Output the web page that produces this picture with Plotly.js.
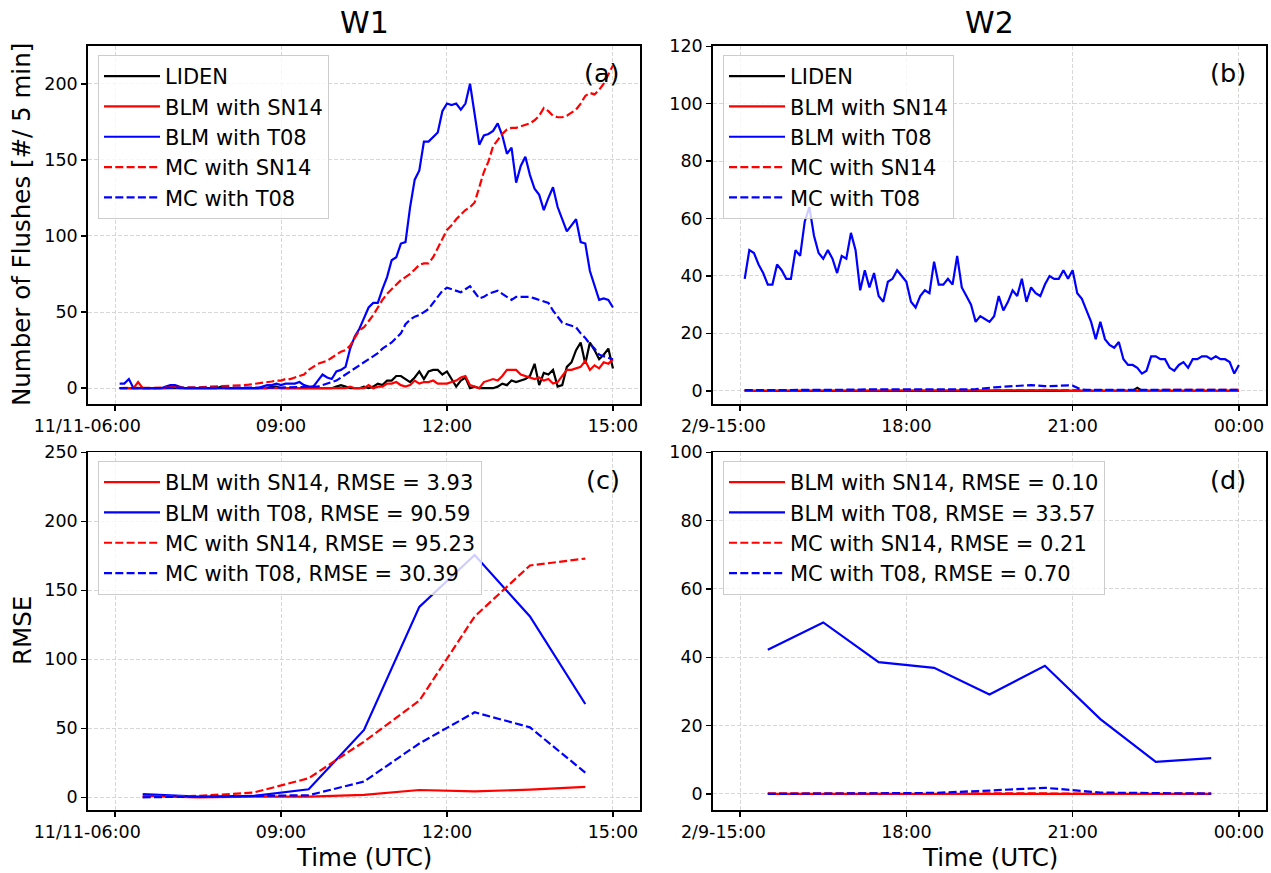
<!DOCTYPE html>
<html>
<head>
<meta charset="utf-8">
<script src="https://cdn.plot.ly/plotly-3.0.1.min.js"></script>
<style>
html,body{margin:0;padding:0;background:#ffffff;}
#chart{width:1271px;height:873px;}
</style>
</head>
<body>
<div id="chart"></div>
<script>
// ---------------- DATA ----------------
// W1: 5-min counts, 2020-11-11 06:05 .. 15:00 (108 values)
const w1_liden = [
  0,0,0,0,0,0,0,0,0,0,0,
  0,0,0,0,0,0,0,0,0,0,0,1,
  0,0,0,0,0,0,0,0,0,0,1,1,
  0,0,0,0,0,0,0,0,0,0,0,0,
  1,2,1,0,0,0,1,0,1,3,2,5,
  5,8,8,6,4,7,11,6,11,12,12,9,
  11,6,1,5,7,0,1,0,0,0,0,1,
  3,2,5,4,5,6,8,16,2,10,9,12,
  1,2,14,17,25,30,16,30,25,19,22,26,
  13];
const w1_blm_sn14 = [
  0,0,0,0,4,0,0,0,0,0,0,
  1,1,0,0,0,0,0,0,0,0,0,0,
  0,0,0,0,0,0,0,0,0,0,0,0,
  0,0,0,0,0,0,0,0,0,0,0,0,
  0,0,0,1,0,0,0,2,0,1,1,3,
  3,4,2,1,2,5,3,4,4,5,3,3,
  3,4,5,7,8,2,1,0,4,5,6,5,
  8,12,12,12,9,8,7,6,7,5,6,3,
  4,8,12,12,13,14,18,12,15,13,17,16,
  19];
const w1_blm_t08 = [
  3,3,6,0,0,0,0,0,0,0,1,
  2,2,1,0,0,0,0,0,0,0,0,0,
  0,0,0,0,0,0,0,0,1,2,2,3,
  2,3,3,3,4,2,1,1,5,9,7,6,
  11,12,14,26,34,39,46,53,56,56,65,73,
  84,86,95,96,119,137,143,162,162,165,168,182,
  187,186,187,183,187,200,179,160,166,167,169,174,
  166,154,158,135,146,152,140,131,127,117,125,132,
  119,111,103,107,111,96,95,77,67,58,59,58,
  53];
const w1_mc_sn14 = [
  0.1,0.1,0.1,0.1,0.2,0.2,0.2,0.2,0.3,0.3,0.3,
  0.3,0.4,0.4,0.4,0.5,0.5,0.6,0.7,0.8,0.9,1,1,
  1.2,1.3,1.5,1.8,2,2.3,2.7,3,3.3,3.8,4.4,5,
  5,6,6,7,8,9,12,14,16,17,18,20,
  22,24,25,28,33,38,40,44,48,53,58,62,
  65,68,71,73,75,78,81,82,82,86,92,97,
  104,107,111,114,117,119,122,132,142,149,159,163,
  167,170,171,171,172,173,174,176,179,184,182,179,
  178,178,179,181,183,187,192,194,193,196,200,206,
  212];
const w1_mc_t08 = [
  0,0,0,0,0,0,0,0,0,0,0,
  0,0,0,0,0,0,0.1,0.1,0.1,0.1,0.1,0.1,
  0.1,0.1,0.1,0.1,0.2,0.2,0.2,0.2,0.3,0.3,0.3,0.4,
  0.4,0.5,0.5,0.6,0.7,0.8,1,1,1,2,3,4,
  5,7,9,11,13,15,17,19,21,23,26,28,
  30,33,36,42,45,47,48,50,52,56,60,64,
  66,65,64,63,65,67,63,59,60,62,63,64,
  62,60,58,60,60,60,60,59,58,57,56,51,
  47,43,42,41,40,36,33,29,26,22,21,20,
  19];

// W2: 5-min counts, 2021-02-09 15:05 .. 2021-02-10 00:00 (108 values)
const w2_liden = [
  0,0,0,0,0,0,0,0,0,0,0,
  0,0,0,0,0,0,0,0,0,0,0,0,
  0,0,0,0,0,0,0,0,0,0,0,0,
  0,0,0,0,0,0,0,0,0,0,0,0,
  0,0,0,0,0,0,0,0,0,0,0,0,
  0,0,0,0,0,0,0,0,0,0,0,0,
  0,0,0,0,0,0,0,0,0,0,0,0,
  0,0,1,0,0,0,0,0,0,0,0,0,
  0,0,0,0,0,0,0,0,0,0,0,0,
  0];
const w2_blm_sn14 = [
  0,0,0,0,0,0,0,0,0,0,0,
  0,0,0,0,0,0,0,0,0,0,0,0,
  0,0,0,0,0,0,0,0,0,0,0,0,
  0,0,0,0,0,0,0,0,0,0,0,0,
  0,0,0,0,0,0,0,0,0,0,0,0,
  0,0,0,0,0.1,0.2,0.3,0.2,0.1,0,0,0,
  0,0,0,0,0,0,0,0,0,0,0,0,
  0,0,0,0,0,0,0,0,0,0,0,0,
  0,0,0,0,0,0,0,0,0,0,0,0,
  0];
const w2_blm_t08 = [
  39,49,48,44,41,37,37,44,42,39,39,
  49,47,59,64,54,48,46,49,46,41,47,46,
  55,49,35,42,36,41,33,31,38,39,42,40,
  38,31,29,33,35,34,45,37,37,39,37,47,
  36,33,30,24,26,25,24,26,33,28,31,35,
  33,39,31,36,34,33,37,40,39,39,42,39,
  42,34,32,28,24,18,24,18,16,15,17,11,
  9,9,8,6,7,12,12,11,11,8,7,9,
  10,8,11,11,12,12,11,12,11,11,10,6,
  9];
const w2_mc_sn14 = [
  0.2,0.2,0.3,0.3,0.2,0.3,0.3,0.2,0.3,0.3,0.3,
  0.3,0.3,0.3,0.3,0.3,0.3,0.4,0.4,0.3,0.3,0.3,0.3,
  0.3,0.3,0.4,0.4,0.3,0.3,0.3,0.3,0.3,0.3,0.3,0.3,
  0.3,0.3,0.3,0.3,0.3,0.3,0.3,0.3,0.4,0.4,0.3,0.3,
  0.3,0.3,0.3,0.3,0.4,0.4,0.4,0.4,0.4,0.4,0.4,0.4,
  0.4,0.4,0.4,0.4,0.4,0.4,0.4,0.4,0.4,0.4,0.4,0.4,
  0.4,0.3,0.3,0.3,0.3,0.3,0.3,0.3,0.3,0.3,0.3,0.3,
  0.3,0.3,0.4,0.3,0.3,0.3,0.3,0.3,0.3,0.3,0.3,0.3,
  0.3,0.3,0.3,0.3,0.3,0.3,0.3,0.3,0.3,0.3,0.3,0.3,
  0.3];
const w2_mc_t08 = [
  0.2,0.2,0.2,0.2,0.2,0.2,0.2,0.2,0.2,0.2,0.2,
  0.3,0.3,0.3,0.3,0.3,0.3,0.3,0.3,0.3,0.3,0.3,0.3,
  0.3,0.3,0.4,0.5,0.5,0.4,0.3,0.3,0.3,0.3,0.3,0.3,
  0.3,0.3,0.3,0.3,0.4,0.4,0.4,0.4,0.4,0.5,0.5,0.5,
  0.5,0.5,0.5,0.6,0.8,1.0,1.1,1.2,1.3,1.4,1.5,1.6,
  1.8,1.9,2.0,2.0,1.9,1.7,1.6,1.6,1.7,1.8,1.9,1.9,
  1.8,1.0,0.4,0.3,0.3,0.3,0.3,0.3,0.3,0.3,0.3,0.3,
  0.3,0.3,0.3,0.3,0.3,0.3,0.3,0.3,0.3,0.3,0.3,0.3,
  0.3,0.3,0.3,0.3,0.3,0.3,0.3,0.3,0.3,0.3,0.3,0.3,
  0.3];

// Hourly RMSE, W1 at 06:30 .. 14:30 ; W2 at 15:30 .. 23:30
const w1_rmse_blm_sn14 = [1, 0, 0.5, 0.5, 1.7, 5.3, 4.3, 5.6, 7.5];
const w1_rmse_blm_t08  = [2.4, 0.5, 1, 5.8, 48.8, 138, 175.6, 131, 67.6];
const w1_rmse_mc_sn14  = [0.5, 1, 3.4, 13.8, 40.3, 70, 131, 168, 173];
const w1_rmse_mc_t08   = [0, 0.5, 1, 1.5, 11.4, 39, 61.6, 50.7, 17.9];
const w2_rmse_blm_sn14 = [0, 0, 0, 0, 0.1, 0.2, 0, 0, 0];
const w2_rmse_blm_t08  = [42.2, 50.2, 38.6, 36.9, 29.1, 37.5, 21.9, 9.4, 10.5];
const w2_rmse_mc_sn14  = [0.2, 0.2, 0.2, 0.2, 0.3, 0.3, 0.2, 0.3, 0.1];
const w2_rmse_mc_t08   = [0, 0.1, 0.2, 0.3, 1.0, 1.8, 0.4, 0.3, 0.1];

// Labels
const seriesNames = ['LIDEN', 'BLM with SN14', 'BLM with T08', 'MC with SN14', 'MC with T08'];
const w1_rmse_names = ['BLM with SN14, RMSE = 3.93', 'BLM with T08, RMSE = 90.59', 'MC with SN14, RMSE = 95.23', 'MC with T08, RMSE = 30.39'];
const w2_rmse_names = ['BLM with SN14, RMSE = 0.10', 'BLM with T08, RMSE = 33.57', 'MC with SN14, RMSE = 0.21', 'MC with T08, RMSE = 0.70'];
const w1_tickvals = ['2020-11-11 06:00', '2020-11-11 09:00', '2020-11-11 12:00', '2020-11-11 15:00'];
const w1_ticktext = ['11/11-06:00', '09:00', '12:00', '15:00'];
const w2_tickvals = ['2021-02-09 15:00', '2021-02-09 18:00', '2021-02-09 21:00', '2021-02-10 00:00'];
const w2_ticktext = ['2/9-15:00', '18:00', '21:00', '00:00'];
const panelTitles = ['W1', 'W2'];
const panelLetters = ['(a)', '(b)', '(c)', '(d)'];
const yTitleTop = 'Number of Flushes [#/ 5 min]';
const yTitleBottom = 'RMSE';
const xTitle = 'Time (UTC)';

// ---------------- HELPERS ----------------
function timeSeries(y, mo, d, h, mi, n, stepMin) {
  const out = [];
  for (let k = 0; k < n; k++) {
    const t = new Date(Date.UTC(y, mo - 1, d, h, mi + k * stepMin));
    out.push(t.toISOString().slice(0, 19).replace('T', ' '));
  }
  return out;
}
const w1_t = timeSeries(2020, 11, 11, 6, 5, w1_liden.length, 5);
const w2_t = timeSeries(2021, 2, 9, 15, 5, w2_liden.length, 5);
const w1_th = timeSeries(2020, 11, 11, 6, 30, w1_rmse_blm_t08.length, 60);
const w2_th = timeSeries(2021, 2, 9, 15, 30, w2_rmse_blm_t08.length, 60);

// the date prefix of the first tick sits left of the tick (time part centred on it)
const NB = '\u00a0';
function padFirst(labels, nPad) {
  return labels.map((s, i) => i === 0 ? s + NB.repeat(nPad) : s);
}

const FONT = 'DejaVu Sans, Verdana, sans-serif';
const LW = 2.2;
const DASH = '8px,3.3px';
const colors = ['black', 'red', 'blue', 'red', 'blue'];
const dashes = ['solid', 'solid', 'solid', DASH, DASH];

function tr(x, y, name, idx, xa, ya, leg) {
  return {
    x: x, y: y, name: name, type: 'scatter', mode: 'lines',
    line: {color: colors[idx], width: LW, dash: dashes[idx]},
    xaxis: xa, yaxis: ya, legend: leg, showlegend: true, hoverinfo: 'skip'
  };
}

const traces = [];
const w1Top = [w1_liden, w1_blm_sn14, w1_blm_t08, w1_mc_sn14, w1_mc_t08];
const w2Top = [w2_liden, w2_blm_sn14, w2_blm_t08, w2_mc_sn14, w2_mc_t08];
w1Top.forEach((s, i) => traces.push(tr(w1_t, s, seriesNames[i], i, 'x', 'y', 'legend')));
w2Top.forEach((s, i) => traces.push(tr(w2_t, s, seriesNames[i], i, 'x2', 'y2', 'legend2')));
const w1Bot = [w1_rmse_blm_sn14, w1_rmse_blm_t08, w1_rmse_mc_sn14, w1_rmse_mc_t08];
const w2Bot = [w2_rmse_blm_sn14, w2_rmse_blm_t08, w2_rmse_mc_sn14, w2_rmse_mc_t08];
w1Bot.forEach((s, i) => traces.push(tr(w1_th, s, w1_rmse_names[i], i + 1, 'x3', 'y3', 'legend3')));
w2Bot.forEach((s, i) => traces.push(tr(w2_th, s, w2_rmse_names[i], i + 1, 'x4', 'y4', 'legend4')));

// ---------------- LAYOUT ----------------
const W = 1271, H = 873;
const px = v => v / W;
const py = v => 1 - v / H;
const colL = [px(88), px(640)];
const colR = [px(713), px(1266)];
const rowT = [py(404), py(45.7)];
const rowB = [py(810), py(452.3)];

function axBase() {
  return {
    showline: true, linecolor: 'black', linewidth: 1.8, mirror: true,
    ticks: 'outside', ticklen: 5, tickwidth: 1.5, tickcolor: 'black',
    showgrid: true, gridcolor: '#d3d3d3', gridwidth: 0.9, griddash: '4px,2px',
    zeroline: false, fixedrange: true,
    tickfont: {family: FONT, size: 17.5, color: 'black'}
  };
}
function xa(domain, anchor, range, tv, tt) {
  return Object.assign(axBase(), {domain: domain, anchor: anchor, type: 'date',
    range: range, tickmode: 'array', tickvals: tv, ticktext: tt});
}
function ya(domain, anchor, range, dtick) {
  return Object.assign(axBase(), {domain: domain, anchor: anchor, range: range,
    tickmode: 'linear', tick0: 0, dtick: dtick});
}
function legendAt(xp, yp) {
  return {x: px(xp), y: py(yp), xanchor: 'left', yanchor: 'top',
    bgcolor: 'rgba(255,255,255,0.8)', bordercolor: '#cccccc', borderwidth: 1,
    font: {family: FONT, size: 21, color: 'black'}, itemwidth: 56, tracegroupgap: 0};
}
function ann(text, x, y, size, opts) {
  return Object.assign({text: text, x: x, y: y, xref: 'paper', yref: 'paper',
    showarrow: false, font: {family: FONT, size: size, color: 'black'}}, opts || {});
}

const w1Range = ['2020-11-11 05:30:40', '2020-11-11 15:29:20'];
const w2Range = ['2021-02-09 14:30:40', '2021-02-10 00:29:20'];
const w1Ticks = padFirst(w1_ticktext, 10);
const w2Ticks = padFirst(w2_ticktext, 6);

const layout = {
  width: W, height: H,
  margin: {l: 0, r: 0, t: 0, b: 0},
  paper_bgcolor: 'white', plot_bgcolor: 'white',
  font: {family: FONT, color: 'black'},
  xaxis: xa(colL, 'y', w1Range, w1_tickvals, w1Ticks),
  yaxis: ya(rowT, 'x', [-10.4, 225], 50),
  xaxis2: xa(colR, 'y2', w2Range, w2_tickvals, w2Ticks),
  yaxis2: ya(rowT, 'x2', [-4.6, 120.2], 20),
  xaxis3: xa(colL, 'y3', w1Range, w1_tickvals, w1Ticks),
  yaxis3: ya(rowB, 'x3', [-9.2, 250], 50),
  xaxis4: xa(colR, 'y4', w2Range, w2_tickvals, w2Ticks),
  yaxis4: ya(rowB, 'x4', [-4.7, 100], 20),
  legend: legendAt(98, 55),
  legend2: legendAt(723, 55),
  legend3: legendAt(98, 461),
  legend4: legendAt(723, 461),
  annotations: [
    ann(panelTitles[0], px(364), py(22), 30, {xanchor: 'center', yanchor: 'middle'}),
    ann(panelTitles[1], px(989.5), py(22), 30, {xanchor: 'center', yanchor: 'middle'}),
    ann(panelLetters[0], px(622), py(73), 25.5, {xanchor: 'right', yanchor: 'middle'}),
    ann(panelLetters[1], px(1248), py(73), 25.5, {xanchor: 'right', yanchor: 'middle'}),
    ann(panelLetters[2], px(622), py(480), 25.5, {xanchor: 'right', yanchor: 'middle'}),
    ann(panelLetters[3], px(1248), py(480), 25.5, {xanchor: 'right', yanchor: 'middle'}),
    ann(yTitleTop, px(22), py(225), 24.5, {textangle: -90, xanchor: 'center', yanchor: 'middle'}),
    ann(yTitleBottom, px(22), py(631), 24.5, {textangle: -90, xanchor: 'center', yanchor: 'middle'}),
    ann(xTitle, px(364), py(857), 24.5, {xanchor: 'center', yanchor: 'middle'}),
    ann(xTitle, px(989.5), py(857), 24.5, {xanchor: 'center', yanchor: 'middle'})
  ]
};

Plotly.newPlot('chart', traces, layout, {displayModeBar: false, staticPlot: true});
</script>
</body>
</html>
